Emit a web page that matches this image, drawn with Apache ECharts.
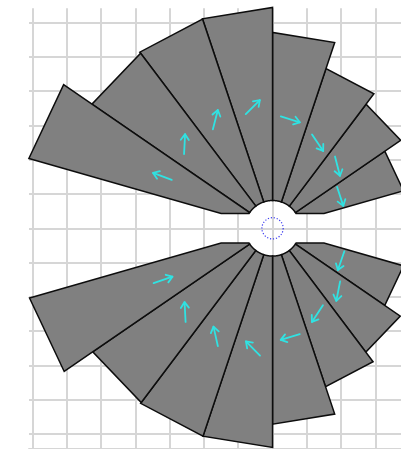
<!DOCTYPE html>
<html><head><meta charset="utf-8">
<script src="https://cdn.jsdelivr.net/npm/echarts@6/dist/echarts.min.js"></script>
<style>html,body{margin:0;padding:0;background:#fff}#c{width:401px;height:449px}</style>
</head><body><div id="c"></div>
<script>
// Sector boundaries in degrees (counter-clockwise from east)
const upperEdges = [16, 34.5, 53, 71.5, 90, 108.5, 127, 145.5, 164];
const lowerEdges = [344, 325.5, 307, 288.5, 270, 251.5, 233, 214.5, 196];
// Outer radius of each sector (grid units)
const upperRadius = [3.97, 4.53, 4.91, 5.71, 6.44, 6.43, 6.39, 7.39];
const lowerRadius = [3.97, 4.52, 4.87, 5.71, 6.39, 6.39, 6.36, 7.37];
// Distance of each arrow from the centre (grid units)
const upperArrowR = [2.18, 2.62, 2.82, 3.22, 3.58, 3.58, 3.55, 3.55];
const lowerArrowR = [2.21, 2.65, 2.81, 3.21, 3.55, 3.56, 3.53, 3.53];
// Arrow directions in degrees
const upperArrowDir = [-72, -75.5, -56, -17.5, 45, 75.5, 87, 159.6];
const lowerArrowDir = [251, 259, 236.5, 196.7, 135, 102.6, 93, 19];
const innerRadius = 0.81;
const gapHalf = 0.43;
const markerRadius = 0.31;
const arrowLength = 0.58;

function buildRows(edges, radius, arrowR, arrowDir, side) {
  const rows = [];
  for (let i = 0; i < radius.length; i++) {
    rows.push([edges[i], edges[i + 1], radius[i], arrowR[i], arrowDir[i], side]);
  }
  return rows;
}
const sectorData = buildRows(upperEdges, upperRadius, upperArrowR, upperArrowDir, 1)
  .concat(buildRows(lowerEdges, lowerRadius, lowerArrowR, lowerArrowDir, -1));

function inter(p, q, fp, fq) {
  const t = fp / (fp - fq);
  return [p[0] + t * (q[0] - p[0]), p[1] + t * (q[1] - p[1])];
}
function clipHalf(poly, side, h) {
  const out = [];
  const f = p => side * p[1] - h;
  for (let i = 0; i < poly.length; i++) {
    const cur = poly[i], prev = poly[(i + poly.length - 1) % poly.length];
    const fc = f(cur), fp = f(prev);
    if (fc >= 0) {
      if (fp < 0) out.push(inter(prev, cur, fp, fc));
      out.push(cur);
    } else if (fp >= 0) {
      out.push(inter(prev, cur, fp, fc));
    }
  }
  return out;
}

function renderSector(params, api) {
  const a0 = api.value(0), a1 = api.value(1), R = api.value(2);
  const ar = api.value(3), dir = api.value(4), side = api.value(5);
  const d2r = Math.PI / 180;
  let pts = [];
  const N = 40;
  for (let k = 0; k <= N; k++) {
    const a = (a0 + (a1 - a0) * k / N) * d2r;
    pts.push([innerRadius * Math.cos(a), innerRadius * Math.sin(a)]);
  }
  pts.push([R * Math.cos(a1 * d2r), R * Math.sin(a1 * d2r)]);
  pts.push([R * Math.cos(a0 * d2r), R * Math.sin(a0 * d2r)]);
  pts = clipHalf(pts, side, gapHalf);
  const px = pts.map(p => api.coord(p));

  const mid = (a0 + a1) / 2 * d2r;
  const c = [ar * Math.cos(mid), ar * Math.sin(mid)];
  const u = [Math.cos(dir * d2r), Math.sin(dir * d2r)];
  const tail = api.coord([c[0] - u[0] * arrowLength / 2, c[1] - u[1] * arrowLength / 2]);
  const head = api.coord([c[0] + u[0] * arrowLength / 2, c[1] + u[1] * arrowLength / 2]);
  let vx = tail[0] - head[0], vy = tail[1] - head[1];
  const len = Math.hypot(vx, vy); vx /= len; vy /= len;
  const hl = 7, ang = 35 * d2r;
  const w1 = [head[0] + hl * (vx * Math.cos(ang) - vy * Math.sin(ang)), head[1] + hl * (vx * Math.sin(ang) + vy * Math.cos(ang))];
  const w2 = [head[0] + hl * (vx * Math.cos(-ang) - vy * Math.sin(-ang)), head[1] + hl * (vx * Math.sin(-ang) + vy * Math.cos(-ang))];
  const arrowStyle = { stroke: '#30e2e2', lineWidth: 1.8, fill: null, lineCap: 'round', lineJoin: 'round' };
  return {
    type: 'group',
    children: [
      { type: 'polygon', shape: { points: px }, style: { fill: '#808080', stroke: '#0d0d0d', lineWidth: 1.5, lineJoin: 'miter' } },
      { type: 'polyline', shape: { points: [tail, head] }, style: arrowStyle },
      { type: 'polyline', shape: { points: [w1, head, w2] }, style: arrowStyle }
    ]
  };
}

function renderMarker(params, api) {
  const c = api.coord([api.value(0), api.value(1)]);
  const e = api.coord([api.value(0) + api.value(2), api.value(1)]);
  return {
    type: 'circle',
    shape: { cx: c[0], cy: c[1], r: e[0] - c[0] },
    style: { fill: null, stroke: '#3a3af0', lineWidth: 1.2, lineDash: [1.2, 1.8] }
  };
}

const chart = echarts.init(document.getElementById('c'), null, { renderer: 'canvas' });
const gridLine = { show: true, lineStyle: { color: '#d6d6d6', width: 2 } };
chart.setOption({
  animation: false,
  backgroundColor: '#fff',
  grid: { left: 29, top: 8.3, width: 487.1, height: 440, outerBoundsMode: 'none', containLabel: false },
  xAxis: {
    type: 'value', min: -7.1, max: 7.1, minInterval: 1, maxInterval: 1, splitNumber: 14,
    axisLine: { show: true, onZero: false, lineStyle: { color: '#d6d6d6', width: 2 } },
    axisTick: { show: false }, axisLabel: { show: false },
    splitLine: Object.assign({ showMinLine: false, showMaxLine: false }, gridLine)
  },
  yAxis: {
    type: 'value', min: -6.414, max: 6.414, minInterval: 1, maxInterval: 1, splitNumber: 13,
    axisLine: { show: false }, axisTick: { show: false }, axisLabel: { show: false },
    splitLine: Object.assign({ showMinLine: false, showMaxLine: false }, gridLine)
  },
  series: [
    { type: 'custom', renderItem: renderSector, data: sectorData, z: 2, silent: true },
    { type: 'custom', renderItem: renderMarker, data: [[0, 0, markerRadius]], z: 3, silent: true }
  ]
});
</script></body></html>
